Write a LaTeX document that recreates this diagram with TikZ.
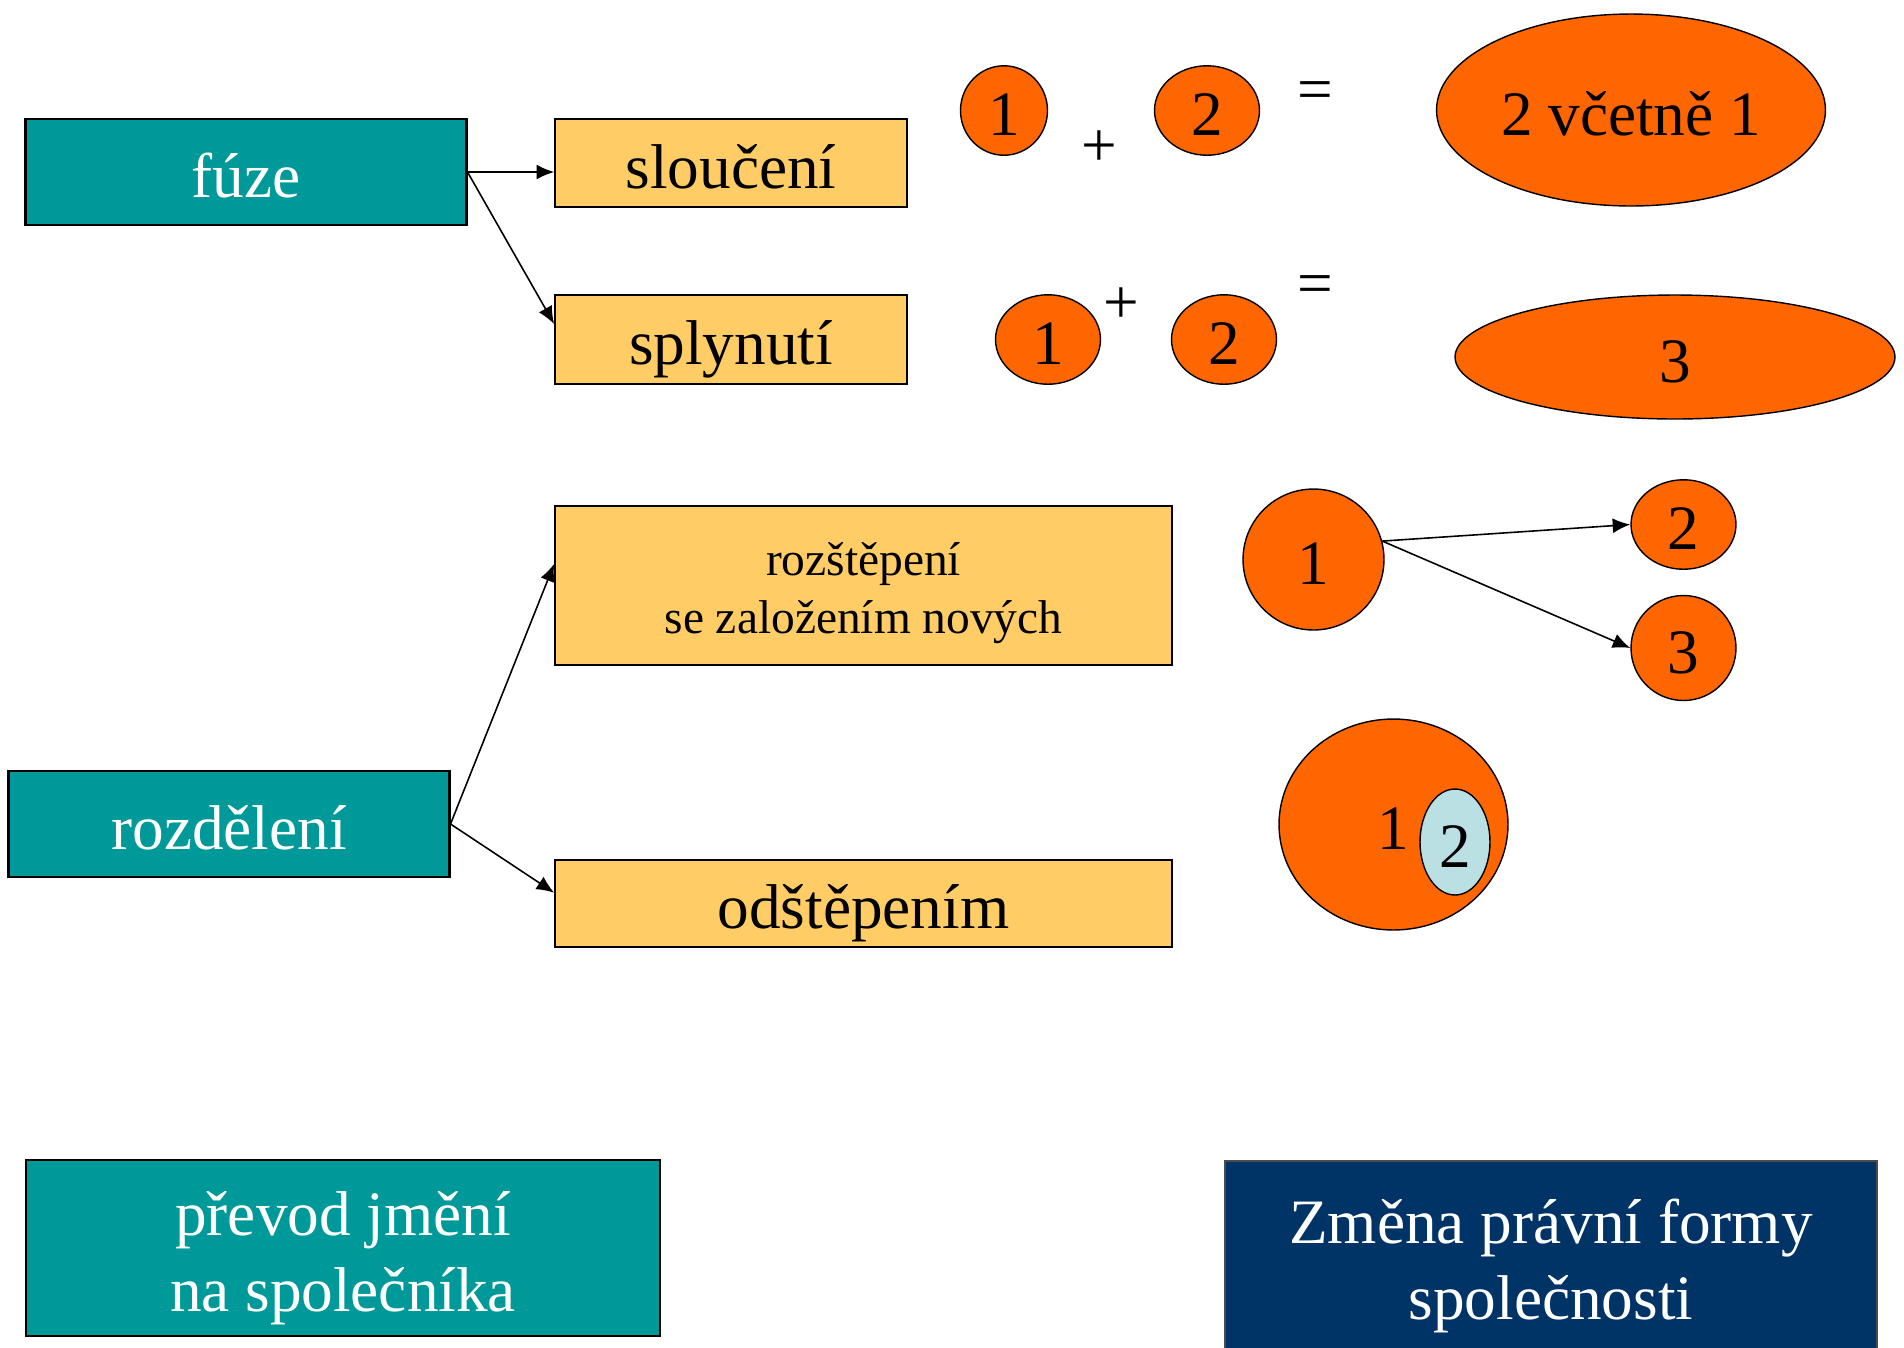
\documentclass[tikz,border=0pt]{standalone}
\usepackage{fontspec}
\setmainfont{Liberation Serif}
\usetikzlibrary{shapes.geometric,arrows.meta}

\definecolor{tyrkys}{HTML}{009999}
\definecolor{zluta}{HTML}{FFCC66}
\definecolor{oranz}{HTML}{FF6600}
\definecolor{modra}{HTML}{003366}
\definecolor{svetle}{HTML}{BBE0E3}

% radek s pevnou vyskou a hloubkou
\newcommand{\radek}[1]{\raisebox{0pt}[0.9em][0.1em]{#1}}

\begin{document}
\begin{tikzpicture}[x=0.02cm, y=-0.02cm,
    velky/.style={font=\fontsize{36}{43.5}\selectfont},
    mensi/.style={font=\fontsize{27}{32.5}\selectfont},
    hlavni/.style={draw=black, line width=1.2pt, fill=tyrkys, text=white, velky, inner sep=0pt, align=center},
    druh/.style={draw=black, line width=1pt, fill=zluta, velky, inner sep=0pt, align=center},
    kruh/.style={ellipse, draw=black, line width=0.8pt, fill=oranz, velky, inner sep=0pt},
    znak/.style={velky, inner sep=0pt},
    pijl/.style={-{Latex[length=10pt,width=8.5pt]}, line width=0.9pt}]

  \useasboundingbox (0,0) rectangle (1904,1347);

  % Obdelniky vlevo
  \node[hlavni, minimum width=8.82cm, minimum height=2.12cm] (fuze) at (246,172) {\radek{fúze}};
  \node[druh, minimum width=7.04cm, minimum height=1.77cm] (slouceni) at (731,163) {\radek{sloučení}};
  \node[druh, minimum width=7.04cm, minimum height=1.77cm] (splynuti) at (731,339.5) {\radek{splynutí}};

  \node[hlavni, minimum width=8.82cm, minimum height=2.12cm] (rozdeleni) at (229,824) {\radek{rozdělení}};
  \node[druh, mensi, minimum width=12.34cm, minimum height=3.18cm] (rozstepeni) at (863.5,585.5) {\radek{rozštěpení}\\\radek{se založením nových}};
  \node[druh, minimum width=12.34cm, minimum height=1.74cm] (odstepenim) at (863.5,903.5) {\radek{odštěpením}};

  \node[hlavni, minimum width=12.7cm, minimum height=3.52cm] (prevod) at (343,1248) {\radek{převod jmění}\\\radek{na společníka}};
  \node[hlavni, fill=modra, draw=black!70, line width=0.8pt, minimum width=13.04cm, minimum height=3.8cm] (zmena) at (1551,1256) {\radek{Změna právní formy}\\\radek{společnosti}};

  % Sipky
  \draw[pijl] (fuze.east) -- (fuze.east -| slouceni.west);
  \draw[pijl] (fuze.east) -- (splynuti.175);
  \draw[pijl] (rozdeleni.east) -- (rozstepeni.176);
  \draw[pijl] (rozdeleni.east) -- (odstepenim.178);

  % Slouceni
  \node[kruh, minimum width=1.74cm, minimum height=1.78cm] (a1) at (1004,110.5) {\radek{1}};
  \node[znak] (aplus) at (1099,149) {+};
  \node[kruh, minimum width=2.1cm, minimum height=1.76cm] (a2) at (1207,110.5) {\radek{2}};
  \node[znak] (arovno) at (1315,96) {=};
  \node[kruh, minimum width=7.78cm, minimum height=3.84cm] (a12) at (1631,110) {\radek{2 včetně 1}};

  % Splynuti
  \node[kruh, minimum width=2.1cm, minimum height=1.76cm] (b1) at (1048,339.5) {\radek{1}};
  \node[znak] (bplus) at (1121,306) {+};
  \node[kruh, minimum width=2.1cm, minimum height=1.76cm] (b2) at (1224,339.5) {\radek{2}};
  \node[znak] (brovno) at (1315,290) {=};
  \node[kruh, minimum width=8.8cm, minimum height=2.48cm] (b3) at (1675,357) {\radek{3}};

  % Rozstepeni
  \node[kruh, minimum width=2.82cm, minimum height=2.82cm] (c1) at (1313.5,559.5) {\radek{1}};
  \node[kruh, minimum width=2.1cm, minimum height=1.4cm] (c2) at (1683.5,524.5) {\radek{2}};
  \node[kruh, minimum width=2.1cm, minimum height=2.1cm] (c3) at (1683.5,648) {\radek{3}};
  \draw[pijl] (c1.15) -- (c2.west);
  \draw[pijl] (c1.15) -- (c3.west);

  % Odstepeni
  \node[kruh, minimum width=4.58cm, minimum height=4.22cm] (d1) at (1393.5,824.5) {\radek{1}};
  \node[kruh, fill=svetle, minimum width=1.4cm, minimum height=2.12cm] (d2) at (1455,842) {\radek{2}};

\end{tikzpicture}
\end{document}
